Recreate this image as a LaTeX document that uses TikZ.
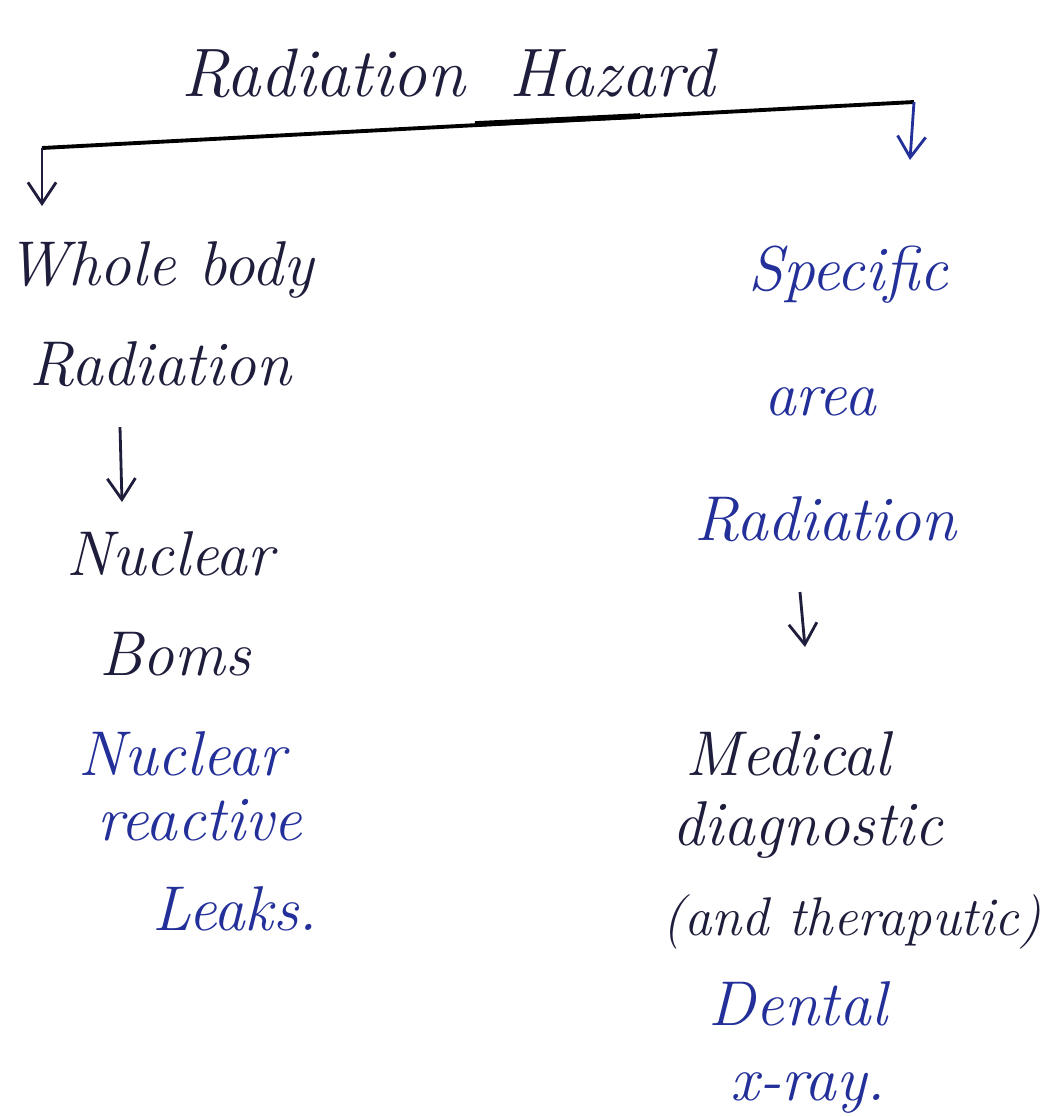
\documentclass[tikz,border=0pt]{standalone}
\usepackage{xcolor}
\usepackage{tikz}
\usetikzlibrary{arrows.meta}
\definecolor{inkdark}{HTML}{1E1E3C}
\definecolor{inkblue}{HTML}{24309A}

\begin{document}
\begin{tikzpicture}[x=0.01cm,y=-0.01cm,
  hand/.style={font=\fontsize{18}{22}\selectfont\itshape, anchor=base, inner sep=0pt},
  stem/.style={line width=0.8pt, color=inkdark, -{Straight Barb[length=6pt,width=8pt]}}]

% Page
\fill[white] (0,0) rectangle (1051,1117);
\useasboundingbox (0,0) rectangle (1051,1117);

% Title
\node[hand, font=\fontsize{19.5}{22}\selectfont\itshape, color=inkdark] (title) at (448,96) {Radiation\hspace{0.45cm}Hazard};

% Bar with the two branches
\coordinate (barL) at (42,148);
\coordinate (barR) at (914,102);
\coordinate (tipL) at (42,206);
\coordinate (tipR) at (910,160);
\draw[line width=1.1pt, color=black] (barL) -- (barR);
\draw[line width=1.6pt, color=black] (475,124) -- (640,116);
\draw[stem] (barL) -- (tipL);
\draw[stem, color=inkblue] (barR) -- (tipR);

% Left branch
\node[hand, color=inkdark] (w1) at (160,285) {Whole body};
\node[hand, color=inkdark] (w2) at (160,385) {Radiation};
\node[hand, color=inkdark] (n1) at (170,575) {Nuclear};
\node[hand, color=inkdark] (n2) at (175,675) {Boms};
\node[hand, color=inkblue] (r1) at (182,775) {Nuclear};
\node[hand, color=inkblue] (r2) at (200,840) {reactive};
\node[hand, color=inkblue] (r3) at (235,930) {Leaks.};
\draw[stem] (w2.south) ++(-40,40) -- ++(2,75);

% Right branch
\node[hand, color=inkblue] (s1) at (848,290) {Specific};
\node[hand, color=inkblue] (s2) at (820,415) {area};
\node[hand, color=inkblue] (s3) at (825,540) {Radiation};
\node[hand, color=inkdark] (m1) at (788,775) {Medical};
\node[hand, color=inkdark] (m2) at (808,845) {diagnostic};
\node[hand, font=\fontsize{15.5}{20}\selectfont\itshape, color=inkdark] (m3) at (852,935) {(and theraputic)};
\node[hand, color=inkblue] (m4) at (798,1025) {Dental};
\node[hand, color=inkblue] (m5) at (808,1100) {x-ray.};
\draw[stem] (s3.south) ++(-25,50) -- ++(5,55);

\end{tikzpicture}
\end{document}
